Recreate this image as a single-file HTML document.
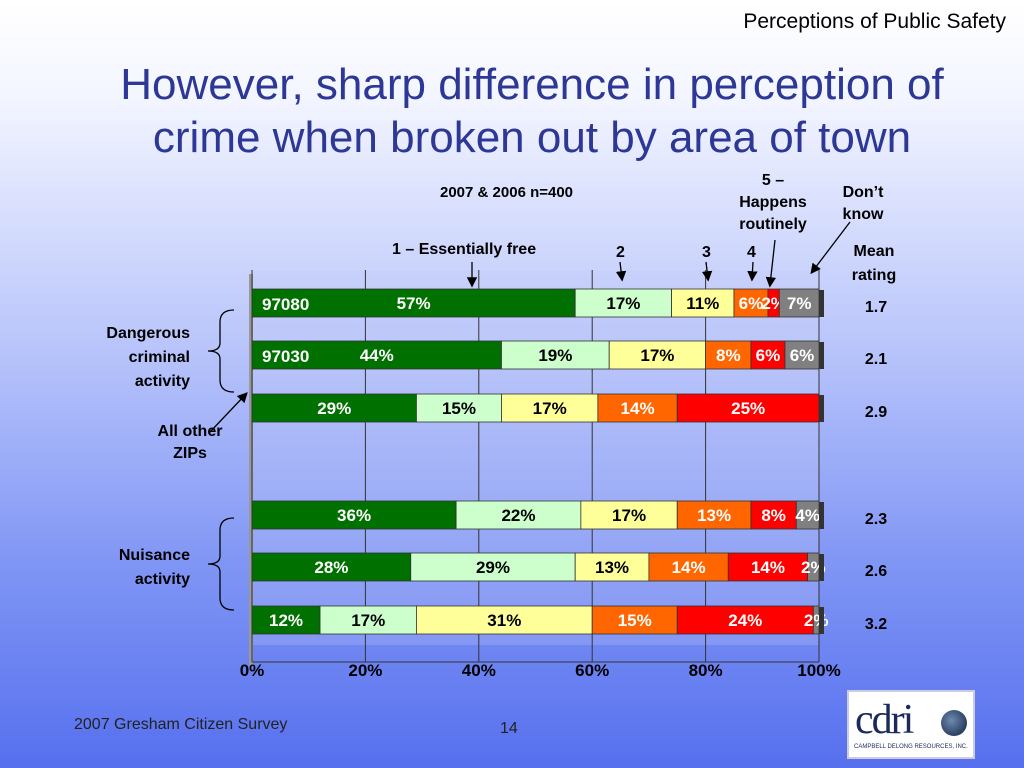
<!DOCTYPE html>
<html><head><meta charset="utf-8"><style>
body{margin:0;width:1024px;height:768px;overflow:hidden;position:relative;font-family:"Liberation Sans",sans-serif;
background:linear-gradient(to bottom,#ffffff 0%,#f4f6ff 12%,#b9c5fb 45%,#7d93f4 75%,#5670ee 100%);}
.t{position:absolute;white-space:nowrap}
.b{font-weight:bold;font-size:16px;color:#000;font-family:"Liberation Sans Narrow","Liberation Sans",sans-serif}
</style></head><body>
<div class="t" style="right:18px;top:10px;font-size:21px;">Perceptions of Public Safety</div>
<div class="t" style="left:0;width:1064px;top:58px;text-align:center;font-size:44px;line-height:53px;color:#2d3796;white-space:normal">However, sharp difference in perception of<br>crime when broken out by area of town</div>
<div class="t b" style="left:440px;top:184px;font-size:15px">2007 &amp; 2006 n=400</div>
<div class="t b" style="left:392px;top:241px">1 – Essentially free</div>
<div class="t b" style="left:616px;top:244px">2</div>
<div class="t b" style="left:702px;top:244px">3</div>
<div class="t b" style="left:747px;top:244px">4</div>
<div class="t b" style="left:735px;top:170px;text-align:center;line-height:22px;width:76px">5 –<br>Happens<br>routinely</div>
<div class="t b" style="left:836px;top:182px;text-align:center;line-height:22px;width:54px">Don’t<br>know</div>
<div class="t b" style="left:846px;top:240px;text-align:center;line-height:24px;width:56px">Mean<br>rating</div>
<div class="t b" style="left:90px;top:322px;text-align:right;line-height:24px;width:100px">Dangerous<br>criminal<br>activity</div>
<div class="t b" style="left:150px;top:421px;text-align:center;line-height:22px;width:80px">All other<br>ZIPs</div>
<div class="t b" style="left:100px;top:544px;text-align:right;line-height:24px;width:90px">Nuisance<br>activity</div>
<div class="t" style="left:74px;top:716px;font-size:16px;color:#222">2007 Gresham Citizen Survey</div>
<div class="t" style="left:500px;top:720px;font-size:16px;color:#222">14</div>
<div style="position:absolute;left:847px;top:690px;width:128px;height:69px;background:#fff;border:2px solid #ccd;box-sizing:border-box">
<div class="t" style="left:6px;top:4px;font-size:42px;font-family:'Liberation Serif',serif;color:#1a2a5a;letter-spacing:-2px">cdri</div>
<div style="position:absolute;left:92px;top:18px;width:26px;height:26px;border-radius:50%;background:radial-gradient(circle at 40% 40%,#6c8ab0,#102040)"></div>
<div class="t" style="left:5px;top:52px;font-size:6px;color:#1a2a5a">CAMPBELL DELONG RESOURCES, INC.</div></div>
<svg id="chart" width="1024" height="768" style="position:absolute;left:0;top:0">
<defs><marker id="ah" markerWidth="8" markerHeight="8" refX="6" refY="4" orient="auto"><path d="M0,0L8,4L0,8z" fill="#000"/></marker></defs>
<g id="g"></g>
</svg>
<script>
const rows=['97080','97030','All other ZIPs','Nuisance 97080','Nuisance 97030','Nuisance other'];
const s1=[57,44,29,36,28,12];
const s2=[17,19,15,22,29,17];
const s3=[11,17,17,17,13,31];
const s4=[6,8,14,13,14,15];
const s5=[2,6,25,8,14,24];
const s6=[7,6,0,4,2,2];
const means=['1.7','2.1','2.9','2.3','2.6','3.2'];
const ticks=[0,20,40,60,80,100];
const series=[s1,s2,s3,s4,s5,s6];
const colors=['#007000','#ccffcc','#ffff99','#ff6600','#ff0000','#808080'];
const txtCol=['#fff','#000','#000','#fff','#fff','#fff'];
const rowY=[289,341,394,501,553,606];
const FF='Liberation Sans Narrow, Liberation Sans, sans-serif';
const x=v=>252+v*5.67;
const g=document.getElementById('g');
const NS='http://www.w3.org/2000/svg';
function mk(t,a){const e=document.createElementNS(NS,t);for(const k in a)e.setAttribute(k,a[k]);g.appendChild(e);return e;}
let w=mk('rect',{x:252,y:270,width:x(100)-252,height:375,fill:'#c4cdf8',opacity:0.25});

let lw=mk('rect',{x:249,y:274,width:4,height:392,fill:'#999'});

ticks.forEach(t=>{
 const l=mk('line',{x1:x(t),x2:x(t),y1:270,y2:662,stroke:'#333','stroke-width':1});
 
 const tx=mk('text',{x:x(t),y:676,'text-anchor':'middle','font-size':17,'font-weight':'bold','font-family':FF});
 tx.textContent=t+'%';
 
});
let fl=mk('line',{x1:252,x2:x(100),y1:662,y2:662,stroke:'#333'});

rows.forEach((r,i)=>{
 let acc=0;const y=rowY[i],h=28;
 series.forEach((s,j)=>{
  const v=Math.min(s[i],100-acc);if(v<=0){return;}
  const rc=mk('rect',{x:x(acc),y:y,width:x(acc+v)-x(acc),height:h,fill:colors[j],stroke:'#333','stroke-width':0.8});
  
  const lab=mk('text',{x:(x(acc)+x(acc+v))/2,y:y+20,'text-anchor':'middle','font-size':17,'font-weight':'bold',fill:txtCol[j],'font-family':FF});
  lab.textContent=s[i]+'%';
  
  acc+=v;
 });
 const cap=mk('rect',{x:x(100),y:y+1,width:5,height:h-1,fill:'#333'});
 
 const m=mk('text',{x:876,y:y+23,'text-anchor':'middle','font-size':16,'font-weight':'bold','font-family':FF});
 m.textContent=means[i];
 
});
[[0,'97080'],[1,'97030']].forEach(([i,t])=>{
 const e=mk('text',{x:262,y:rowY[i]+21,'font-size':17,'font-weight':'bold',fill:'#fff','font-family':FF});
 e.textContent=t;
});
function brace(y1,y2){const m=(y1+y2)/2;const p=mk('path',{d:`M234,${y1} Q220,${y1} 220,${y1+12} L220,${m-8} Q220,${m} 208,${m} Q220,${m} 220,${m+8} L220,${y2-12} Q220,${y2} 234,${y2}`,fill:'none',stroke:'#000','stroke-width':1.3});}
brace(310,392);brace(518,610);
[[472,262,472,285],[620,262,622,279],[706,262,708,279],[753,262,752,279],[775,240,770,285],[850,222,812,272],[210,432,246,394]].forEach(a=>{
 const l=mk('line',{x1:a[0],y1:a[1],x2:a[2],y2:a[3],stroke:'#000','stroke-width':1.3,'marker-end':'url(#ah)'});
 
});
</script>
</body></html>
